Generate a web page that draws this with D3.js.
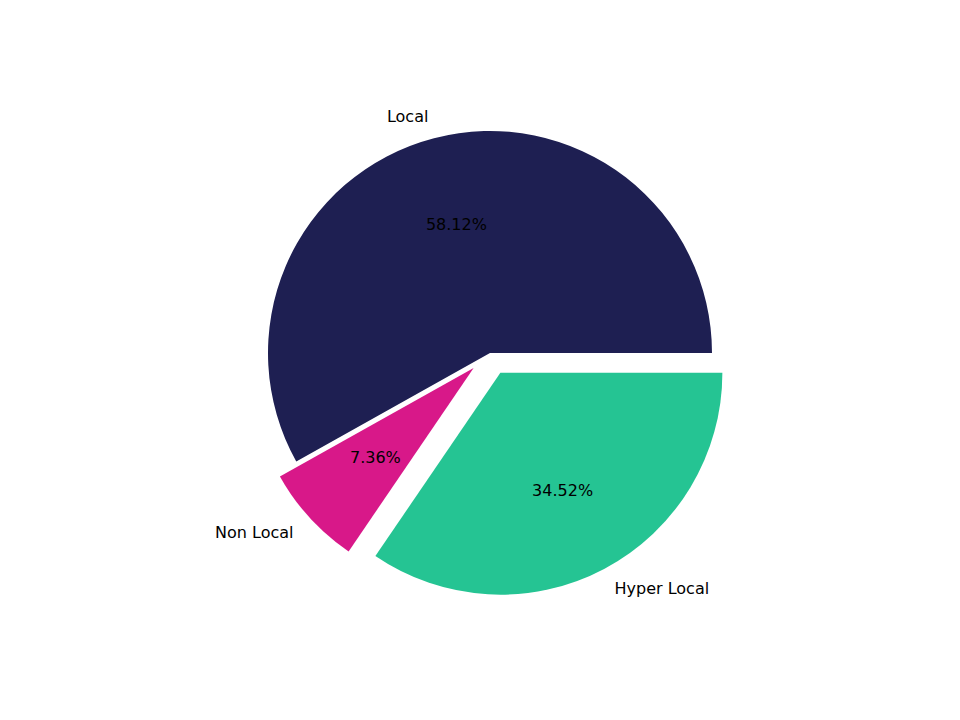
<!doctype html>
<html lang="en">
  <head>
    <meta charset="utf-8">
    <title>Pie</title>
    <script src="https://d3js.org/d3.v7.min.js"></script>
    <style>
      body { margin: 0; background: white; }
      text { font-family: "DejaVu Sans", sans-serif; font-size: 16px; fill: black; }
    </style>
  </head>
  <body>
    <svg width="960" height="720"></svg>
    <script>
      var labels = ['Local', 'Non Local', 'Hyper Local'];
      var values = [58.12, 7.36, 34.52];
      var explode = [0, 0.1, 0.1];
      var colors = ['#1e1f52', '#d81889', '#25c493'];

      var svg = d3.select('svg');
      var r = 222, cx = 490, cy = 353;

      // matplotlib style: start at 3 o'clock, go counter-clockwise
      var pie = d3.pie().sort(null)
        .startAngle(Math.PI / 2)
        .endAngle(Math.PI / 2 - 2 * Math.PI);

      var arc = d3.arc().innerRadius(0).outerRadius(r);

      var g = svg.append('g').attr('transform', 'translate(' + cx + ',' + cy + ')');

      var slices = g.selectAll('g.slice').data(pie(values)).enter()
        .append('g')
        .attr('class', 'slice')
        .attr('transform', function(d, i) {
          var m = (d.startAngle + d.endAngle) / 2;
          var e = explode[i] * r;
          return 'translate(' + (Math.sin(m) * e) + ',' + (-Math.cos(m) * e) + ')';
        });

      slices.append('path')
        .attr('d', arc)
        .style('fill', function(d, i) { return colors[i]; });

      slices.append('text')
        .attr('text-anchor', 'middle')
        .attr('dominant-baseline', 'central')
        .attr('x', function(d) { return Math.sin((d.startAngle + d.endAngle) / 2) * r * 0.6; })
        .attr('y', function(d) { return -Math.cos((d.startAngle + d.endAngle) / 2) * r * 0.6; })
        .text(function(d) { return d.data.toFixed(2) + '%'; });

      slices.append('text')
        .attr('text-anchor', function(d) {
          return Math.sin((d.startAngle + d.endAngle) / 2) > 0 ? 'start' : 'end';
        })
        .attr('dominant-baseline', 'central')
        .attr('x', function(d) { return Math.sin((d.startAngle + d.endAngle) / 2) * r * 1.1; })
        .attr('y', function(d) { return -Math.cos((d.startAngle + d.endAngle) / 2) * r * 1.1; })
        .text(function(d, i) { return labels[i]; });
    </script>
  </body>
</html>
